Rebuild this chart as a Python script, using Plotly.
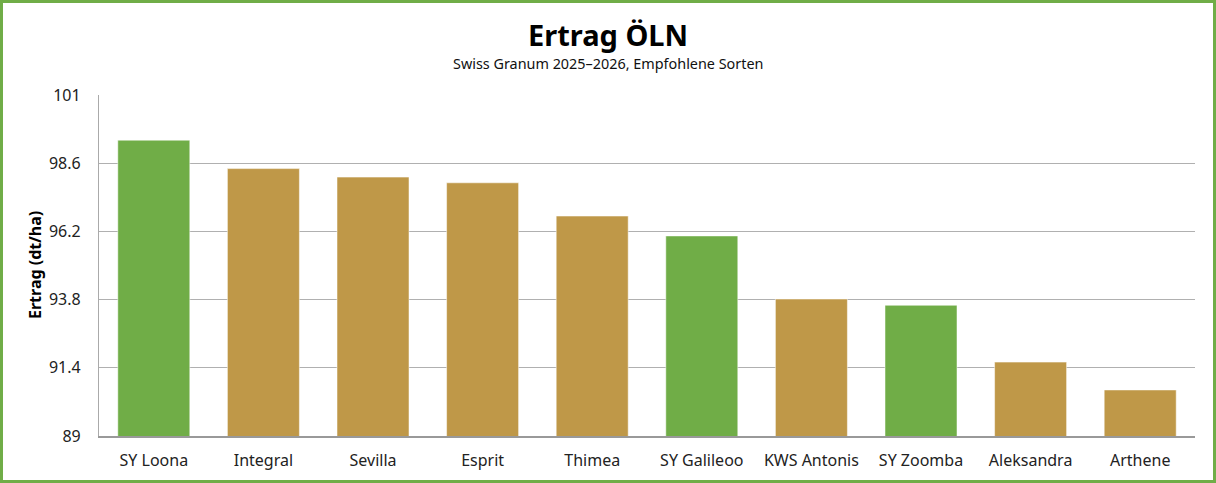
import plotly.graph_objects as go

categories = ["SY Loona", "Integral", "Sevilla", "Esprit", "Thimea",
              "SY Galileoo", "KWS Antonis", "SY Zoomba", "Aleksandra", "Arthene"]
ertrag = [99.41, 98.41, 98.11, 97.91, 96.74, 96.04, 93.82, 93.60, 91.60, 90.62]
gruppe = ["SY", "other", "other", "other", "other", "SY", "other", "SY", "other", "other"]
tick_vals = [89, 91.4, 93.8, 96.2, 98.6, 101]
tick_text = ["89", "91.4", "93.8", "96.2", "98.6", "101"]

GREEN = "#70AD47"
GOLD = "#BF9848"
colors = [GREEN if g == "SY" else GOLD for g in gruppe]

W, H = 1216, 483
ML, MR, MT, MB = 99, 21, 95, 47
PW, PH = W - ML - MR, H - MT - MB

FONT = "Noto Sans, Open Sans, sans-serif"

fig = go.Figure()
fig.add_trace(go.Bar(
    x=categories, y=ertrag,
    marker=dict(color=colors, line=dict(color="rgba(255,255,255,0.5)", width=1)),
    hoverinfo="x+y",
))

def px_x(p):
    return (p - ML) / PW

def px_y(p):
    return (H - MB - p) / PH

fig.update_layout(
    width=W, height=H,
    margin=dict(l=ML, r=MR, t=MT, b=MB),
    paper_bgcolor="white", plot_bgcolor="white",
    font=dict(family=FONT, color="#222222", size=16),
    bargap=0.343,
    showlegend=False,
    xaxis=dict(
        showline=True, linecolor="#999999", linewidth=1.5,
        ticks="", showgrid=False, tickfont=dict(size=16, color="#222222"),
        ticklabelstandoff=9,
        fixedrange=True,
    ),
    yaxis=dict(
        range=[89, 101], tickvals=tick_vals, ticktext=tick_text,
        showgrid=True, gridcolor="#B0B0B0", gridwidth=1.2,
        showline=True, linecolor="#AAAAAA", linewidth=1.2,
        zeroline=False, ticks="", ticklen=0,
        tickfont=dict(size=16, color="#222222"),
        ticklabelstandoff=14,
        fixedrange=True,
    ),
    annotations=[
        dict(text="<b>Ertrag ÖLN</b>", xref="paper", yref="paper",
             x=px_x(608), y=px_y(35), xanchor="center", yanchor="middle",
             showarrow=False, font=dict(size=29, color="#000000", family=FONT)),
        dict(text="Swiss Granum 2025–2026, Empfohlene Sorten", xref="paper", yref="paper",
             x=px_x(608), y=px_y(63), xanchor="center", yanchor="middle",
             showarrow=False, font=dict(size=14.4, color="#111111", family=FONT)),
        dict(text="<b>Ertrag (dt/ha)</b>", xref="paper", yref="paper",
             x=px_x(35), y=px_y(265), xanchor="center", yanchor="middle",
             textangle=-90, showarrow=False,
             font=dict(size=16, color="#000000", family=FONT)),
    ],
    shapes=[dict(
        type="rect", xref="paper", yref="paper",
        x0=px_x(1.5), x1=px_x(W - 1.5), y0=px_y(H - 1.5), y1=px_y(1.5),
        line=dict(color=GREEN, width=3), fillcolor="rgba(0,0,0,0)", layer="above",
    )],
)

fig.write_html("out.html", config={"displayModeBar": False},
               post_script="document.body.style.margin='0';document.body.style.overflow='hidden';")
